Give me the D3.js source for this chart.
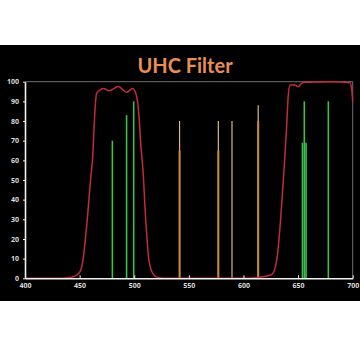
<!DOCTYPE html>
<html>
<head>
<meta charset="utf-8">
<script src="https://cdn.jsdelivr.net/npm/d3@7"></script>
<style>
  body { margin: 0; background: #fff; }
  .axis text { font-family: 'Open Sans', sans-serif; font-size: 7px; font-weight: bold; fill: #dcdcdc; }
  .axis path, .axis line { stroke: #f0f0f0; }
</style>
</head>
<body>
<div id="chart-area"></div>
<script>
// Filter transmission curve (nm, %)
let curveWl = [400, 430, 440, 445, 450, 453, 457, 460, 462, 463.5, 465.5, 468, 471.7, 477, 485.5, 493, 498.6, 502, 504, 506, 508, 510.5, 513.5, 517.5, 522, 530,
  600, 612, 620, 626, 630.4, 634, 636.5, 638, 639.6, 641, 642.6, 647, 650, 653, 655, 665, 680, 690, 697.5, 699, 700];
let curveVal = [0, 0, 0.3, 1, 3, 9, 30, 50, 62, 80, 94, 95.5, 96.6, 95.4, 97.5, 94.6, 96.6, 93, 85, 68, 55, 30, 9, 2, 0.3, 0,
  0, 0.3, 1, 2, 9, 30, 50, 63, 78, 93, 98.3, 98.3, 97.5, 99, 99.7, 99.8, 100, 99.8, 99.5, 96.6, 90];

// Emission lines passed (green)
let greenWl = [480, 493, 499.5, 654, 657.3, 655.7, 677.7];
let greenVal = [70, 83, 90, 69, 69, 90, 90];

// Emission lines blocked (orange): tall pale part and lower deep part
let orangeTallWl = [541.5, 577, 589.5, 613.5];
let orangeTallVal = [80, 80, 80, 88];
let orangeLowWl = [541.5, 577, 613.5];
let orangeLowVal = [65, 65, 80];

let xTicks = [400, 450, 500, 550, 600, 650, 700];
let yTicks = [0, 10, 20, 30, 40, 50, 60, 70, 80, 90, 100];

let margin = { top: 81.7, right: 7.3, bottom: 81.7, left: 25 };
let width = 360 - margin.left - margin.right,
  height = 360 - margin.top - margin.bottom;

let root = d3.select('#chart-area')
  .append('svg')
  .attr('width', 360)
  .attr('height', 360);

// black panel
root.append('rect')
  .attr('x', 0).attr('y', 45)
  .attr('width', 360).attr('height', 256)
  .attr('fill', '#000');

root.append('text')
  .attr('x', 185).attr('y', 72.5)
  .attr('text-anchor', 'middle')
  .attr('font-family', 'Lato, sans-serif')
  .attr('font-weight', 'bold')
  .attr('font-size', 20)
  .attr('fill', '#e98f55')
  .text('UHC Filter');

let svg = root.append('g')
  .attr('transform', 'translate(' + margin.left + ',' + margin.top + ')');

// Scales
let x = d3.scaleLinear().domain([400, 700]).range([0, width]);
let y = d3.scaleLinear().domain([0, 100]).range([height, 0]);

// frame (top and right)
svg.append('path')
  .attr('d', 'M0,0H' + width + 'V' + height)
  .attr('fill', 'none')
  .attr('stroke', '#6e6e6e')
  .attr('stroke-width', 1);

// orange lines
svg.selectAll('.o-tall')
  .data(orangeTallWl)
  .enter().append('line')
  .attr('class', 'o-tall')
  .attr('x1', d => x(d)).attr('x2', d => x(d))
  .attr('y1', y(0)).attr('y2', (d, i) => y(orangeTallVal[i]))
  .attr('stroke', '#dcb583')
  .attr('stroke-width', 1.2);

svg.selectAll('.o-low')
  .data(orangeLowWl)
  .enter().append('line')
  .attr('class', 'o-low')
  .attr('x1', d => x(d)).attr('x2', d => x(d))
  .attr('y1', y(0)).attr('y2', (d, i) => y(orangeLowVal[i]))
  .attr('stroke', '#c98a3c')
  .attr('stroke-width', 2);

// green lines
svg.selectAll('.g-line')
  .data(greenWl)
  .enter().append('line')
  .attr('class', 'g-line')
  .attr('x1', d => x(d)).attr('x2', d => x(d))
  .attr('y1', y(0)).attr('y2', (d, i) => y(greenVal[i]))
  .attr('stroke', '#3cc048')
  .attr('stroke-width', 1.6);

// transmission curve
let curve = curveWl.map((d, i) => [d, curveVal[i]]);
svg.append('path')
  .datum(curve)
  .attr('fill', 'none')
  .attr('stroke', '#c42a3e')
  .attr('stroke-width', 1.5)
  .attr('d', d3.line().x(d => x(d[0])).y(d => y(d[1])).curve(d3.curveMonotoneX));

// Axes
let xAxis = d3.axisBottom(x).tickValues(xTicks).tickSizeInner(-3).tickSizeOuter(0).tickPadding(5);
let yAxis = d3.axisLeft(y).tickValues(yTicks).tickSizeInner(2).tickSizeOuter(0).tickPadding(4);

svg.append('g')
  .attr('class', 'x-axis axis')
  .attr('transform', 'translate(0,' + height + ')')
  .call(xAxis);

svg.append('g')
  .attr('class', 'y-axis axis')
  .call(yAxis);

svg.selectAll('.axis .domain').attr('stroke-width', 1.6);
</script>
</body>
</html>
